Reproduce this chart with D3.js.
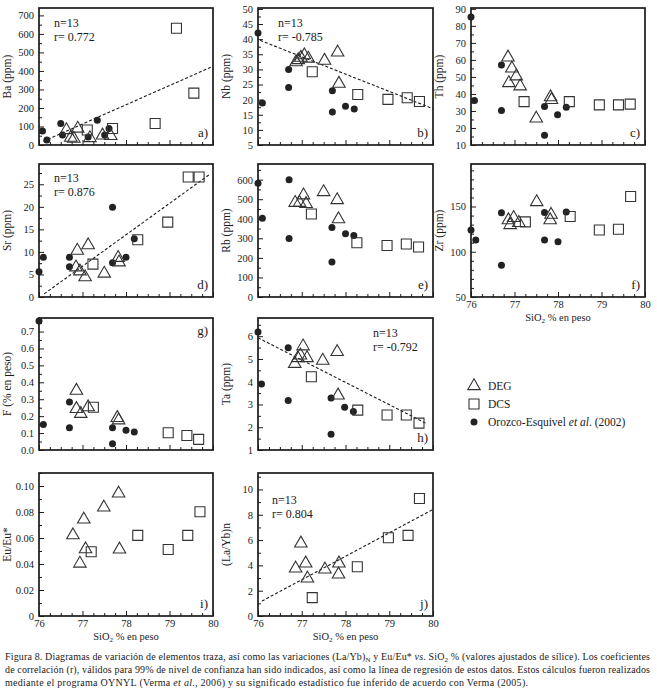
<!DOCTYPE html>
<html lang="es">
<head>
<meta charset="UTF-8">
<title>Figura 8</title>
<style>
  body { margin: 0; background: #fff; }
  svg { display: block; font-family: "Liberation Serif", "Times New Roman", Times, serif; }
</style>
</head>
<body>
<svg id="chart" width="657" height="694"></svg>
<script src="https://cdn.jsdelivr.net/npm/d3@7"></script>
<script>
// [SiO2, value] pairs
const baOrozco = [[76.08,76],[76.18,27],[76.50,116],[76.54,54],[77.13,43],[77.34,134],[77.51,54],[77.61,89]];
const baDEG = [[76.63,81],[76.73,40],[76.80,34],[76.89,89],[77.17,38],[77.46,52],[77.65,49]];
const baDCS = [[77.11,81],[77.69,89],[78.67,116],[79.16,631],[79.56,280]];
const baFit = [[76.1,20],[80,425]];

const nbOrozco = [[76.0,42],[76.1,18.9],[76.7,30],[76.7,24],[77.7,22.9],[77.7,15.9],[78.0,17.8],[78.2,16.9]];
const nbDEG = [[76.87,32.4],[76.92,33.1],[76.98,33.9],[77.06,34.7],[77.15,33.6],[77.52,32.9],[77.82,35.6],[77.85,25.3]];
const nbDCS = [[77.24,29.2],[78.28,21.7],[78.97,20.1],[79.41,20.6],[79.69,19.4]];
const nbFit = [[76.05,39.6],[80,17.0]];

const thOrozco = [[76.0,85.2],[76.08,36.1],[76.7,57],[76.7,30.2],[77.69,32.6],[77.69,15.7],[77.99,27.8],[78.19,32.2]];
const thDEG = [[76.85,61.5],[76.94,55],[77.04,50.4],[76.87,46.4],[77.13,44.5],[77.5,25.6],[77.83,38.1],[77.85,36.5]];
const thDCS = [[77.22,35.5],[78.26,35.5],[78.95,33.6],[79.39,33.6],[79.66,34]];

const srOrozco = [[76.0,5.6],[76.1,8.8],[76.7,8.8],[76.7,6.7],[77.69,19.9],[77.69,7.6],[78.0,8.8],[78.19,12.9]];
const srDEG = [[76.88,10.3],[77.13,11.5],[76.85,6.6],[76.94,5.7],[77.06,4.4],[77.5,5.2],[77.82,8.7],[77.84,7.7]];
const srDCS = [[77.24,7.3],[78.27,12.7],[78.96,16.6],[79.43,26.6],[79.68,26.6]];
const srFit = [[76.12,0.7],[79.91,27.1]];

const rbOrozco = [[76.0,581],[76.1,402],[76.71,600],[76.71,299],[77.69,355],[77.69,179],[78.0,323],[78.19,315]];
const rbDEG = [[76.85,482],[76.95,482],[77.04,520],[77.1,476],[77.5,537],[77.81,496],[77.84,398]];
const rbDCS = [[77.22,424],[78.26,277],[78.95,263],[79.39,271],[79.67,256]];

const zrOrozco = [[76.0,124],[76.11,113],[76.7,143],[76.7,85],[77.69,143.5],[77.69,113],[78.0,111],[78.19,144]];
const zrDEG = [[76.86,135],[76.98,137.5],[76.9,129.6],[77.1,132],[77.51,155],[77.84,141],[77.82,135]];
const zrDCS = [[77.25,133],[78.28,139],[78.95,124],[79.39,124.8],[79.67,161]];

const fOrozco = [[76.0,0.763],[76.1,0.151],[76.7,0.284],[76.7,0.131],[77.69,0.131],[77.69,0.037],[78.0,0.116],[78.19,0.106]];
const fDEG = [[76.86,0.351],[76.86,0.243],[76.96,0.214],[77.13,0.253],[77.8,0.19],[77.83,0.176]];
const fDCS = [[77.25,0.253],[78.97,0.102],[79.4,0.086],[79.67,0.063]];

const taOrozco = [[76.0,6.19],[76.08,3.9],[76.69,5.49],[76.69,3.18],[77.67,3.28],[77.67,1.69],[77.98,2.88],[78.18,2.69]];
const taDEG = [[76.84,4.79],[76.91,5.04],[76.97,5.16],[77.03,5.56],[77.12,5.04],[77.48,4.93],[77.81,5.31],[77.83,3.40]];
const taDCS = [[77.22,4.22],[78.28,2.75],[78.95,2.54],[79.39,2.54],[79.68,2.18]];
const taFit = [[76.0,5.93],[79.85,2.16]];

const euDEG = [[76.78,0.0622],[76.94,0.0404],[77.03,0.0743],[77.07,0.0514],[77.49,0.0835],[77.83,0.0943],[77.85,0.0512]];
const euDCS = [[77.2,0.0494],[78.27,0.062],[78.97,0.0512],[79.42,0.062],[79.7,0.0802]];

const laDEG = [[76.98,5.74],[76.86,3.76],[77.09,4.16],[77.13,2.97],[77.53,3.68],[77.85,4.16],[77.84,3.29]];
const laDCS = [[77.24,1.45],[78.27,3.89],[78.98,6.18],[79.43,6.37],[79.69,9.29]];
const laFit = [[76.09,1.18],[80,8.42]];

const siTicks = [76, 77, 78, 79, 80];

const svg = d3.select("#chart");
const ink = "#1a1a1a";
const serif = "'Liberation Serif', 'Times New Roman', Times, serif";

// column / row frames
const cols = [[39, 213], [258, 433], [471, 645]];
const rows = [[8, 145], [164, 297], [318, 450], [473, 616]];

function range(a, b, s) { return d3.range(a, b + s / 2, s).map(v => +v.toFixed(4)); }

const panels = [
  { c: 0, r: 0, dom: [0, 740], ticks: range(0, 700, 100), minor: range(50, 650, 100), title: "Ba  (ppm)",
    oro: baOrozco, deg: baDEG, dcs: baDCS, fit: baFit, stat: ["n=13", "r= 0.772"], statPos: [15, 19], tag: "a)" },
  { c: 1, r: 0, dom: [5, 50.3], ticks: range(5, 50, 5), minor: range(7.5, 47.5, 5), title: "Nb  (ppm)",
    oro: nbOrozco, deg: nbDEG, dcs: nbDCS, fit: nbFit, stat: ["n=13", "r= -0.785"], statPos: [20, 19], tag: "b)" },
  { c: 2, r: 0, dom: [10, 90.5], ticks: range(10, 90, 10), minor: range(15, 85, 10), title: "Th  (ppm)",
    oro: thOrozco, deg: thDEG, dcs: thDCS, tag: "c)" },
  { c: 0, r: 1, dom: [0, 29.5], ticks: range(0, 25, 5), minor: range(2.5, 27.5, 5), title: "Sr  (ppm)",
    oro: srOrozco, deg: srDEG, dcs: srDCS, fit: srFit, stat: ["n=13", "r= 0.876"], statPos: [15, 18], tag: "d)" },
  { c: 1, r: 1, dom: [0, 680], ticks: range(0, 600, 100), minor: range(50, 650, 100), title: "Rb  (ppm)",
    oro: rbOrozco, deg: rbDEG, dcs: rbDCS, tag: "e)" },
  { c: 2, r: 1, dom: [50, 197], ticks: [50, 100, 150], minor: range(60, 190, 10).filter(v => v % 50), title: "Zr  (ppm)",
    oro: zrOrozco, deg: zrDEG, dcs: zrDCS, tag: "f)", xLabels: true },
  { c: 0, r: 2, dom: [0, 0.78], ticks: range(0, 0.7, 0.1), minor: range(0.05, 0.75, 0.1), fmt: d3.format(".1f"), title: "F  (% en peso)",
    oro: fOrozco, deg: fDEG, dcs: fDCS, tag: "g)", tagTop: true },
  { c: 1, r: 2, dom: [1, 6.8], ticks: range(1, 6, 1), minor: range(1.5, 6.5, 1), title: "Ta  (ppm)",
    oro: taOrozco, deg: taDEG, dcs: taDCS, fit: taFit, stat: ["n=13", "r= -0.792"], statPos: [115, 19], tag: "h)" },
  { c: 0, r: 3, dom: [0, 0.11], ticks: range(0, 0.1, 0.02), minor: range(0.01, 0.11, 0.02), fmt: v => v === 0 ? "0" : d3.format(".2f")(v), title: "Eu/Eu*",
    deg: euDEG, dcs: euDCS, tag: "i)", xLabels: true },
  { c: 1, r: 3, dom: [0, 11.3], ticks: range(0, 10, 2), minor: range(1, 11, 2), title: "(La/Yb)n",
    deg: laDEG, dcs: laDCS, fit: laFit, stat: ["n=13", "r= 0.804"], statPos: [14, 31], tag: "j)", xLabels: true }
];

const triangle = d3.symbol().type(d3.symbolTriangle).size(68);
const square = d3.symbol().type(d3.symbolSquare).size(100);

function styleAxis(a) {
  a.attr("font-family", serif);
  a.select(".domain").remove();
  a.selectAll("text").attr("font-size", 10.5).attr("fill", ink);
  a.selectAll("line").attr("stroke", ink);
}

function drawPanel(p) {
  const [x0, x1] = cols[p.c];
  const [y0, y1] = rows[p.r];
  const x = d3.scaleLinear().domain([76, 80]).range([x0, x1]);
  const y = d3.scaleLinear().domain(p.dom).range([y1, y0]);
  const g = svg.append("g");

  // y axis, inward ticks
  styleAxis(g.append("g").attr("transform", `translate(${x0},0)`)
    .call(d3.axisLeft(y).tickValues(p.ticks).tickSize(-5).tickPadding(5).tickFormat(p.fmt || d3.format("d"))));
  styleAxis(g.append("g").attr("transform", `translate(${x0},0)`)
    .call(d3.axisLeft(y).tickValues(p.minor).tickSize(-3).tickFormat("")));

  // x axis
  styleAxis(g.append("g").attr("transform", `translate(0,${y1})`)
    .call(d3.axisBottom(x).tickValues(siTicks).tickSize(-5).tickPadding(4).tickFormat(p.xLabels ? d3.format("d") : "")));
  styleAxis(g.append("g").attr("transform", `translate(0,${y1})`)
    .call(d3.axisBottom(x).tickValues(range(76.25, 79.75, 0.25).filter(v => v % 1)).tickSize(-3).tickFormat("")));

  // frame
  g.append("rect").attr("x", x0).attr("y", y0).attr("width", x1 - x0).attr("height", y1 - y0)
    .attr("fill", "none").attr("stroke", ink).attr("stroke-width", 1.7);

  // y title
  const tx = x0 - 28, ty = (y0 + y1) / 2;
  g.append("text").attr("transform", `translate(${tx},${ty}) rotate(-90)`)
    .attr("text-anchor", "middle").attr("font-size", 11.5).attr("fill", ink).text(p.title);

  if (p.xLabels) {
    const t = g.append("text").attr("x", (x0 + x1) / 2).attr("y", y1 + 24)
      .attr("text-anchor", "middle").attr("font-size", 10.5).attr("fill", ink);
    t.append("tspan").text("SiO");
    t.append("tspan").attr("font-size", 7).attr("dy", 2).text("2");
    t.append("tspan").attr("dy", -2).text(" % en peso");
  }

  // regression line
  if (p.fit) {
    g.append("line")
      .attr("x1", x(p.fit[0][0])).attr("y1", y(p.fit[0][1]))
      .attr("x2", x(p.fit[1][0])).attr("y2", y(p.fit[1][1]))
      .attr("stroke", ink).attr("stroke-width", 1.1).attr("stroke-dasharray", "3,2");
  }

  // markers
  if (p.oro) g.selectAll(".oro").data(p.oro).join("circle")
    .attr("cx", d => x(d[0])).attr("cy", d => y(d[1])).attr("r", 3.5).attr("fill", "#222");
  g.selectAll(".deg").data(p.deg).join("path")
    .attr("transform", d => `translate(${x(d[0])},${y(d[1])})`).attr("d", triangle)
    .attr("fill", "none").attr("stroke", "#333").attr("stroke-width", 1.1);
  g.selectAll(".dcs").data(p.dcs).join("path")
    .attr("transform", d => `translate(${x(d[0])},${y(d[1])})`).attr("d", square)
    .attr("fill", "none").attr("stroke", "#333").attr("stroke-width", 1.1);

  if (p.stat) {
    const sx = x0 + p.statPos[0], sy = y0 + p.statPos[1];
    g.append("text").attr("x", sx).attr("y", sy).attr("font-size", 12).attr("fill", ink).text(p.stat[0]);
    g.append("text").attr("x", sx).attr("y", sy + 14).attr("font-size", 12).attr("fill", ink).text(p.stat[1]);
  }

  g.append("text").attr("x", x1 - 5).attr("y", p.tagTop ? y0 + 17 : y1 - 8)
    .attr("text-anchor", "end").attr("font-size", 13).attr("fill", ink).text(p.tag);
}

panels.forEach(drawPanel);

// legend
const lg = svg.append("g");
lg.append("path").attr("transform", "translate(474,386)").attr("d", triangle)
  .attr("fill", "none").attr("stroke", "#333").attr("stroke-width", 1.1);
lg.append("path").attr("transform", "translate(474,404)").attr("d", square)
  .attr("fill", "none").attr("stroke", "#333").attr("stroke-width", 1.1);
lg.append("circle").attr("cx", 474).attr("cy", 422).attr("r", 3.5).attr("fill", "#222");
lg.append("text").attr("x", 488).attr("y", 390).attr("font-size", 11.5).attr("fill", ink).text("DEG");
lg.append("text").attr("x", 488).attr("y", 408).attr("font-size", 11.5).attr("fill", ink).text("DCS");
const oz = lg.append("text").attr("x", 488).attr("y", 426).attr("font-size", 11.5).attr("fill", ink);
oz.append("tspan").text("Orozco-Esquivel ");
oz.append("tspan").attr("font-style", "italic").text("et al");
oz.append("tspan").text(". (2002)");

// caption
const cap = svg.append("g").attr("font-size", 10).attr("fill", ink);
const c1 = cap.append("text").attr("x", 5).attr("y", 660).attr("textLength", 645).attr("lengthAdjust", "spacing");
c1.append("tspan").text("Figura 8. Diagramas de variación de elementos traza, así como las variaciones (La/Yb)");
c1.append("tspan").attr("font-size", 7).attr("dy", 2).text("N");
c1.append("tspan").attr("dy", -2).text(" y Eu/Eu* ");
c1.append("tspan").attr("font-style", "italic").text("vs");
c1.append("tspan").text(". SiO");
c1.append("tspan").attr("font-size", 7).attr("dy", 2).text("2");
c1.append("tspan").attr("dy", -2).text(" % (valores ajustados de sílice). Los coeficientes");
cap.append("text").attr("x", 5).attr("y", 673).attr("textLength", 645).attr("lengthAdjust", "spacing")
  .text("de correlación (r), válidos para 99% de nivel de confianza han sido indicados, así como la línea de regresión de estos datos. Estos cálculos fueron realizados");
const c3 = cap.append("text").attr("x", 5).attr("y", 686).attr("textLength", 523).attr("lengthAdjust", "spacing");
c3.append("tspan").text("mediante el programa OYNYL (Verma ");
c3.append("tspan").attr("font-style", "italic").text("et al");
c3.append("tspan").text("., 2006) y su significado estadístico fue inferido de acuerdo con Verma (2005).");
</script>
</body>
</html>
